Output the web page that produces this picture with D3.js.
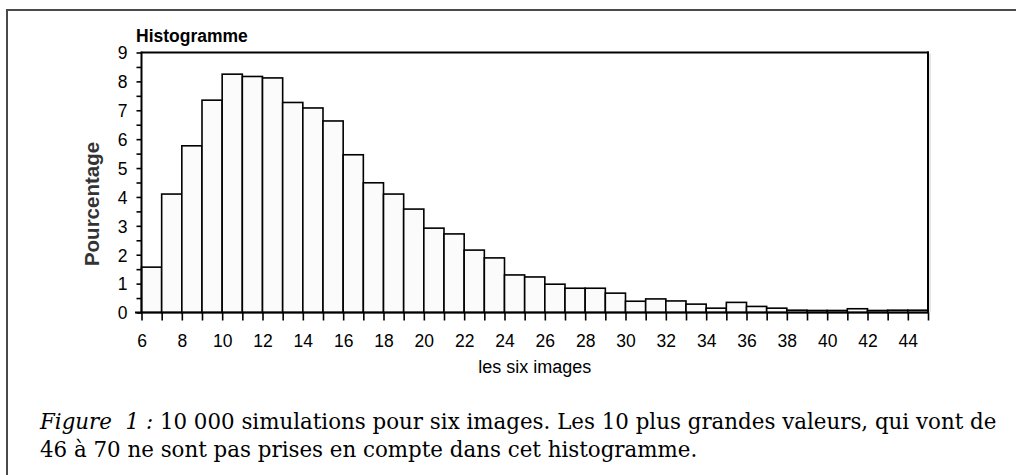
<!DOCTYPE html>
<html><head><meta charset="utf-8">
<script src="https://cdn.jsdelivr.net/npm/d3@7/dist/d3.min.js"></script>
<style>body{margin:0;background:#fff}svg{display:block}text{white-space:pre}</style>
</head><body>
<svg id="c" width="1016" height="475"></svg>
<script>
const binStarts = [6,7,8,9,10,11,12,13,14,15,16,17,18,19,20,21,22,23,24,25,26,27,28,29,30,31,32,33,34,35,36,37,38,39,40,41,42,43,44];
const percentages = [1.57,4.10,5.77,7.35,8.25,8.17,8.12,7.27,7.08,6.63,5.46,4.49,4.10,3.58,2.92,2.72,2.16,1.89,1.30,1.23,0.98,0.84,0.84,0.67,0.39,0.47,0.40,0.29,0.15,0.35,0.21,0.15,0.08,0.07,0.07,0.13,0.07,0.08,0.08];
const xTickLabels = [6,8,10,12,14,16,18,20,22,24,26,28,30,32,34,36,38,40,42,44];
const yTickLabels = [0,1,2,3,4,5,6,7,8,9];
const titleText = "Histogramme";
const yLabel = "Pourcentage";
const xLabel = "les six images";
const captionItalic = "Figure  1 :";
const captionLine1 = " 10 000 simulations pour six images. Les 10 plus grandes valeurs, qui vont de";
const captionLine2 = "46 à 70 ne sont pas prises en compte dans cet histogramme.";

const svg = d3.select("#c");
const L = 141.5, R = 928, T = 52.5, B = 312.5;
const x = d3.scaleLinear().domain([6,45]).range([L,R]);
const y = d3.scaleLinear().domain([0,9]).range([B,T]);
const sans = "'Liberation Sans', Arial, sans-serif";

// outer frame
svg.append("line").attr("x1",7).attr("x2",1016).attr("y1",10).attr("y2",10).attr("stroke","#4a4a4a").attr("stroke-width",2);
svg.append("line").attr("x1",7).attr("x2",7).attr("y1",9).attr("y2",475).attr("stroke","#4a4a4a").attr("stroke-width",2);

// bars
svg.append("g").selectAll("rect").data(binStarts).join("rect")
  .attr("x", d => x(d))
  .attr("width", d => x(d+1)-x(d))
  .attr("y", (d,i) => y(percentages[i]))
  .attr("height", (d,i) => y(0)-y(percentages[i]))
  .attr("fill","#fbfbfb").attr("stroke","#000").attr("stroke-width",1.6);

// top and right border
svg.append("line").attr("x1",L).attr("x2",R+1).attr("y1",T).attr("y2",T).attr("stroke","#000").attr("stroke-width",2);
svg.append("line").attr("x1",R+2).attr("x2",R+2).attr("y1",T+1).attr("y2",B).attr("stroke","#ccc").attr("stroke-width",1);
svg.append("line").attr("x1",R).attr("x2",R).attr("y1",T-1).attr("y2",B).attr("stroke","#000").attr("stroke-width",2);

// x axis
const xAxis = d3.axisBottom(x).tickValues(d3.range(6,46,1)).tickSize(8).tickSizeOuter(0)
  .tickFormat(d => xTickLabels.includes(d) ? d : "");
const gx = svg.append("g").attr("transform",`translate(0,${B})`).call(xAxis);
gx.select(".domain").remove();
gx.selectAll(".tick line").attr("stroke","#000").attr("stroke-width",1.6);
gx.selectAll(".tick text").attr("font-family",sans).attr("font-size",17.5).attr("fill","#000").attr("y",34.5).attr("dy",0);
svg.append("line").attr("x1",135).attr("x2",R).attr("y1",B).attr("y2",B).attr("stroke","#000").attr("stroke-width",2);

// y axis
const yAxis = d3.axisLeft(y).tickValues(d3.range(0,9.01,0.5)).tickSize(5).tickSizeOuter(0)
  .tickFormat(d => yTickLabels.includes(d) ? d : "");
const gy = svg.append("g").attr("transform",`translate(${L},0)`).call(yAxis);
gy.select(".domain").attr("stroke","#000").attr("stroke-width",2).attr("d",`M0,${B}V${T-1}`);
gy.selectAll(".tick line").attr("stroke","#000").attr("stroke-width",1.6);
gy.selectAll(".tick text").attr("font-family",sans).attr("font-size",17.5).attr("fill","#000").attr("x",-14).attr("dy","0.36em");

// title
svg.append("text").attr("x",136).attr("y",42).text(titleText)
  .attr("font-family",sans).attr("font-weight","bold").attr("font-size",17.5).attr("fill","#000");

// y label
svg.append("text").attr("transform","translate(99,204) rotate(-90)").attr("text-anchor","middle").text(yLabel)
  .attr("font-family",sans).attr("font-weight","bold").attr("font-size",20.5).attr("fill","#333");

// x label
svg.append("text").attr("x",(L+R)/2).attr("y",373).attr("text-anchor","middle").text(xLabel)
  .attr("font-family",sans).attr("font-size",18).attr("fill","#000");

// caption
const capFont = "'DejaVu Serif', 'Liberation Serif', serif";
const t1 = svg.append("text").attr("x",40).attr("y",429).attr("font-family",capFont).attr("font-size",18).attr("fill","#000");
t1.append("tspan").attr("font-style","italic").text(captionItalic);
t1.append("tspan").text(captionLine1);
const w1 = t1.node().getComputedTextLength();
const fs = 18*957/w1;
t1.attr("font-size",fs);
svg.append("text").attr("x",40).attr("y",457).attr("font-family",capFont).attr("font-size",fs).attr("fill","#000").text(captionLine2);
</script>
</body></html>
